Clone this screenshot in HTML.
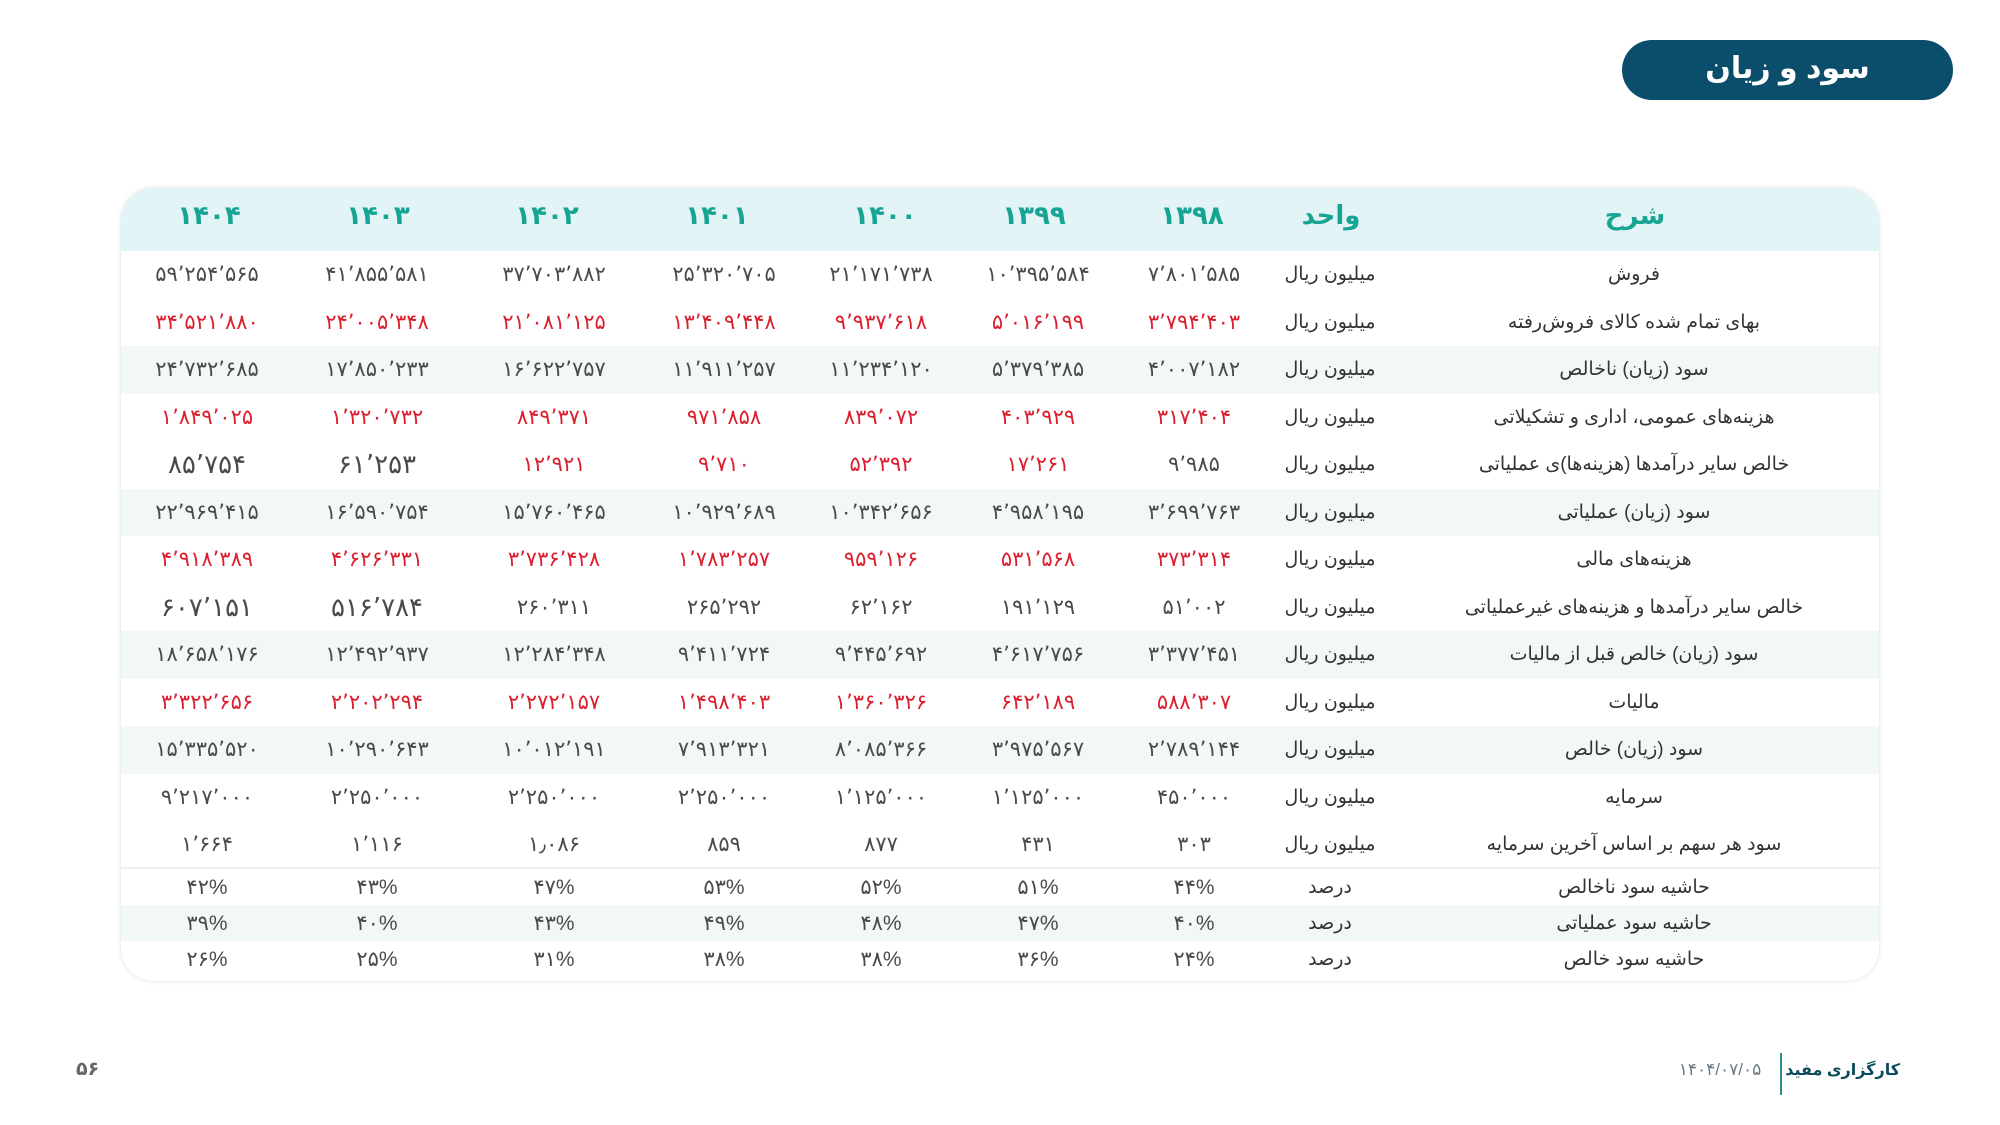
<!DOCTYPE html>
<html lang="fa">
<head>
<meta charset="utf-8">
<style>
  html,body{margin:0;padding:0;}
  body{width:2000px;height:1125px;overflow:hidden;background:#fff;position:relative;
       font-family:"Liberation Sans","DejaVu Sans",sans-serif;}
  .pill{position:absolute;left:1622px;top:40px;width:331px;height:60px;border-radius:30px;
        background:#0b4e6b;color:#fff;font-weight:bold;font-size:30px;display:flex;align-items:center;
        justify-content:center;direction:rtl;padding-bottom:4px;box-sizing:border-box;}
  .card{position:absolute;left:120px;top:187px;width:1760px;height:795px;border-radius:34px;
        background:#fff;overflow:hidden;box-shadow:0 0 5px rgba(0,0,0,0.07);border:1px solid #eef1f1;box-sizing:border-box;}
  .row{position:absolute;left:0;width:1760px;}
  .hdr{top:0;height:63px;background:#e2f4f5;}
  .sh{background:#f1f8f7;}
  .c{position:absolute;top:0;height:100%;width:260px;margin-left:-130px;display:flex;align-items:center;
     justify-content:center;white-space:nowrap;direction:ltr;font-size:21px;color:#4a4a4a;}
  .hdr .c{color:#17a593;font-weight:bold;font-size:26px;height:55px;}
  .k1{left:86px}.k2{left:256px}.k3{left:433px}.k4{left:603px}.k5{left:760px}.k6{left:917px}.k7{left:1073px}
  .ku{left:1209px;direction:rtl;font-size:19px;color:#333;}
  .kl{left:1513px;width:560px;margin-left:-280px;direction:rtl;font-size:19px;color:#333;}
  .hdr .h1{left:88px}.hdr .h2{left:257px}.hdr .h3{left:426px}.hdr .h4{left:596px}.hdr .h5{left:764px}
  .hdr .h6{left:913px}.hdr .h7{left:1071px}.hdr .hu{left:1210px;direction:rtl}.hdr .hl{left:1514px;direction:rtl}
  .r{color:#dc1f2e;}
  .big{font-size:26px;}
  .line{position:absolute;left:0;width:1760px;top:679px;height:2px;background:#f1eeee;}
  .pg{position:absolute;left:76px;top:1058px;font-size:19px;font-weight:bold;color:#666;}
  .brand{position:absolute;left:1740px;top:1060px;width:160px;text-align:right;direction:rtl;font-size:16px;font-weight:bold;color:#0c4a5e;white-space:nowrap;}
  .div{position:absolute;left:1780px;top:1053px;width:2px;height:42px;background:#2a8f86;}
  .date{position:absolute;left:1670px;top:1060px;width:100px;text-align:center;font-size:17px;color:#6b7b85;white-space:nowrap;}
</style>
</head>
<body>
<div class="pill">سود و زیان</div>

<div class="card">
  <div class="row hdr">
    <div class="c h1">۱۴۰۴</div><div class="c h2">۱۴۰۳</div><div class="c h3">۱۴۰۲</div><div class="c h4">۱۴۰۱</div>
    <div class="c h5">۱۴۰۰</div><div class="c h6">۱۳۹۹</div><div class="c h7">۱۳۹۸</div>
    <div class="c hu">واحد</div><div class="c hl">شرح</div>
  </div>

  <div class="row" style="top:63px;height:47.5px">
    <div class="c k1">۵۹٬۲۵۴٬۵۶۵</div><div class="c k2">۴۱٬۸۵۵٬۵۸۱</div><div class="c k3">۳۷٬۷۰۳٬۸۸۲</div><div class="c k4">۲۵٬۳۲۰٬۷۰۵</div>
    <div class="c k5">۲۱٬۱۷۱٬۷۳۸</div><div class="c k6">۱۰٬۳۹۵٬۵۸۴</div><div class="c k7">۷٬۸۰۱٬۵۸۵</div>
    <div class="c ku">میلیون ریال</div><div class="c kl">فروش</div>
  </div>
  <div class="row" style="top:110.5px;height:47.5px">
    <div class="c k1 r">۳۴٬۵۲۱٬۸۸۰</div><div class="c k2 r">۲۴٬۰۰۵٬۳۴۸</div><div class="c k3 r">۲۱٬۰۸۱٬۱۲۵</div><div class="c k4 r">۱۳٬۴۰۹٬۴۴۸</div>
    <div class="c k5 r">۹٬۹۳۷٬۶۱۸</div><div class="c k6 r">۵٬۰۱۶٬۱۹۹</div><div class="c k7 r">۳٬۷۹۴٬۴۰۳</div>
    <div class="c ku">میلیون ریال</div><div class="c kl">بهای تمام شده کالای فروش‌رفته</div>
  </div>
  <div class="row sh" style="top:158px;height:47.5px">
    <div class="c k1">۲۴٬۷۳۲٬۶۸۵</div><div class="c k2">۱۷٬۸۵۰٬۲۳۳</div><div class="c k3">۱۶٬۶۲۲٬۷۵۷</div><div class="c k4">۱۱٬۹۱۱٬۲۵۷</div>
    <div class="c k5">۱۱٬۲۳۴٬۱۲۰</div><div class="c k6">۵٬۳۷۹٬۳۸۵</div><div class="c k7">۴٬۰۰۷٬۱۸۲</div>
    <div class="c ku">میلیون ریال</div><div class="c kl">سود (زیان) ناخالص</div>
  </div>
  <div class="row" style="top:205.5px;height:47.5px">
    <div class="c k1 r">۱٬۸۴۹٬۰۲۵</div><div class="c k2 r">۱٬۳۲۰٬۷۳۲</div><div class="c k3 r">۸۴۹٬۳۷۱</div><div class="c k4 r">۹۷۱٬۸۵۸</div>
    <div class="c k5 r">۸۳۹٬۰۷۲</div><div class="c k6 r">۴۰۳٬۹۲۹</div><div class="c k7 r">۳۱۷٬۴۰۴</div>
    <div class="c ku">میلیون ریال</div><div class="c kl">هزینه‌های عمومی، اداری و تشکیلاتی</div>
  </div>
  <div class="row" style="top:253px;height:47.5px">
    <div class="c k1 big">۸۵٬۷۵۴</div><div class="c k2 big">۶۱٬۲۵۳</div><div class="c k3 r">۱۲٬۹۲۱</div><div class="c k4 r">۹٬۷۱۰</div>
    <div class="c k5 r">۵۲٬۳۹۲</div><div class="c k6 r">۱۷٬۲۶۱</div><div class="c k7">۹٬۹۸۵</div>
    <div class="c ku">میلیون ریال</div><div class="c kl">خالص سایر درآمدها (هزینه‌ها)ی عملیاتی</div>
  </div>
  <div class="row sh" style="top:300.5px;height:47.5px">
    <div class="c k1">۲۲٬۹۶۹٬۴۱۵</div><div class="c k2">۱۶٬۵۹۰٬۷۵۴</div><div class="c k3">۱۵٬۷۶۰٬۴۶۵</div><div class="c k4">۱۰٬۹۲۹٬۶۸۹</div>
    <div class="c k5">۱۰٬۳۴۲٬۶۵۶</div><div class="c k6">۴٬۹۵۸٬۱۹۵</div><div class="c k7">۳٬۶۹۹٬۷۶۳</div>
    <div class="c ku">میلیون ریال</div><div class="c kl">سود (زیان) عملیاتی</div>
  </div>
  <div class="row" style="top:348px;height:47.5px">
    <div class="c k1 r">۴٬۹۱۸٬۳۸۹</div><div class="c k2 r">۴٬۶۲۶٬۳۳۱</div><div class="c k3 r">۳٬۷۳۶٬۴۲۸</div><div class="c k4 r">۱٬۷۸۳٬۲۵۷</div>
    <div class="c k5 r">۹۵۹٬۱۲۶</div><div class="c k6 r">۵۳۱٬۵۶۸</div><div class="c k7 r">۳۷۳٬۳۱۴</div>
    <div class="c ku">میلیون ریال</div><div class="c kl">هزینه‌های مالی</div>
  </div>
  <div class="row" style="top:395.5px;height:47.5px">
    <div class="c k1 big">۶۰۷٬۱۵۱</div><div class="c k2 big">۵۱۶٬۷۸۴</div><div class="c k3">۲۶۰٬۳۱۱</div><div class="c k4">۲۶۵٬۲۹۲</div>
    <div class="c k5">۶۲٬۱۶۲</div><div class="c k6">۱۹۱٬۱۲۹</div><div class="c k7">۵۱٬۰۰۲</div>
    <div class="c ku">میلیون ریال</div><div class="c kl">خالص سایر درآمدها و هزینه‌های غیرعملیاتی</div>
  </div>
  <div class="row sh" style="top:443px;height:47.5px">
    <div class="c k1">۱۸٬۶۵۸٬۱۷۶</div><div class="c k2">۱۲٬۴۹۲٬۹۳۷</div><div class="c k3">۱۲٬۲۸۴٬۳۴۸</div><div class="c k4">۹٬۴۱۱٬۷۲۴</div>
    <div class="c k5">۹٬۴۴۵٬۶۹۲</div><div class="c k6">۴٬۶۱۷٬۷۵۶</div><div class="c k7">۳٬۳۷۷٬۴۵۱</div>
    <div class="c ku">میلیون ریال</div><div class="c kl">سود (زیان) خالص قبل از مالیات</div>
  </div>
  <div class="row" style="top:490.5px;height:47.5px">
    <div class="c k1 r">۳٬۳۲۲٬۶۵۶</div><div class="c k2 r">۲٬۲۰۲٬۲۹۴</div><div class="c k3 r">۲٬۲۷۲٬۱۵۷</div><div class="c k4 r">۱٬۴۹۸٬۴۰۳</div>
    <div class="c k5 r">۱٬۳۶۰٬۳۲۶</div><div class="c k6 r">۶۴۲٬۱۸۹</div><div class="c k7 r">۵۸۸٬۳۰۷</div>
    <div class="c ku">میلیون ریال</div><div class="c kl">مالیات</div>
  </div>
  <div class="row sh" style="top:538px;height:47.5px">
    <div class="c k1">۱۵٬۳۳۵٬۵۲۰</div><div class="c k2">۱۰٬۲۹۰٬۶۴۳</div><div class="c k3">۱۰٬۰۱۲٬۱۹۱</div><div class="c k4">۷٬۹۱۳٬۳۲۱</div>
    <div class="c k5">۸٬۰۸۵٬۳۶۶</div><div class="c k6">۳٬۹۷۵٬۵۶۷</div><div class="c k7">۲٬۷۸۹٬۱۴۴</div>
    <div class="c ku">میلیون ریال</div><div class="c kl">سود (زیان) خالص</div>
  </div>
  <div class="row" style="top:585.5px;height:47.5px">
    <div class="c k1">۹٬۲۱۷٬۰۰۰</div><div class="c k2">۲٬۲۵۰٬۰۰۰</div><div class="c k3">۲٬۲۵۰٬۰۰۰</div><div class="c k4">۲٬۲۵۰٬۰۰۰</div>
    <div class="c k5">۱٬۱۲۵٬۰۰۰</div><div class="c k6">۱٬۱۲۵٬۰۰۰</div><div class="c k7">۴۵۰٬۰۰۰</div>
    <div class="c ku">میلیون ریال</div><div class="c kl">سرمایه</div>
  </div>
  <div class="row" style="top:633px;height:47px">
    <div class="c k1">۱٬۶۶۴</div><div class="c k2">۱٬۱۱۶</div><div class="c k3">۱٫۰۸۶</div><div class="c k4">۸۵۹</div>
    <div class="c k5">۸۷۷</div><div class="c k6">۴۳۱</div><div class="c k7">۳۰۳</div>
    <div class="c ku">میلیون ریال</div><div class="c kl">سود هر سهم بر اساس آخرین سرمایه</div>
  </div>
  <div class="line"></div>
  <div class="row" style="top:681px;height:36px">
    <div class="c k1">۴۲%</div><div class="c k2">۴۳%</div><div class="c k3">۴۷%</div><div class="c k4">۵۳%</div>
    <div class="c k5">۵۲%</div><div class="c k6">۵۱%</div><div class="c k7">۴۴%</div>
    <div class="c ku">درصد</div><div class="c kl">حاشیه سود ناخالص</div>
  </div>
  <div class="row sh" style="top:717px;height:36px">
    <div class="c k1">۳۹%</div><div class="c k2">۴۰%</div><div class="c k3">۴۳%</div><div class="c k4">۴۹%</div>
    <div class="c k5">۴۸%</div><div class="c k6">۴۷%</div><div class="c k7">۴۰%</div>
    <div class="c ku">درصد</div><div class="c kl">حاشیه سود عملیاتی</div>
  </div>
  <div class="row" style="top:753px;height:36px">
    <div class="c k1">۲۶%</div><div class="c k2">۲۵%</div><div class="c k3">۳۱%</div><div class="c k4">۳۸%</div>
    <div class="c k5">۳۸%</div><div class="c k6">۳۶%</div><div class="c k7">۲۴%</div>
    <div class="c ku">درصد</div><div class="c kl">حاشیه سود خالص</div>
  </div>
</div>

<div class="pg">۵۶</div>
<div class="date">۱۴۰۴/۰۷/۰۵</div>
<div class="div"></div>
<div class="brand">کارگزاری مفید</div>
</body>
</html>
